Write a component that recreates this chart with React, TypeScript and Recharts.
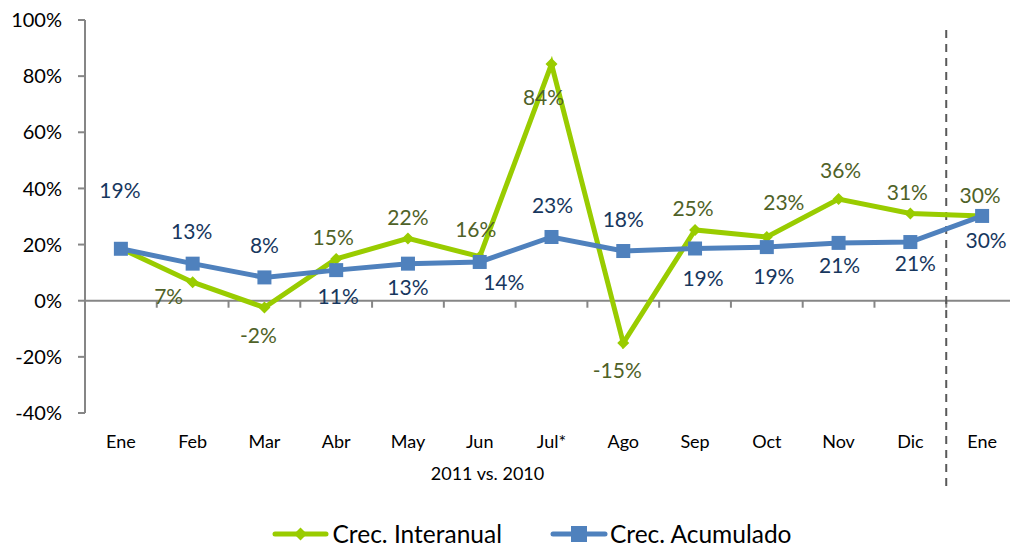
import { LineChart, Line, XAxis, YAxis, ReferenceLine, Legend, LabelList } from "recharts"

const months = ["Ene", "Feb", "Mar", "Abr", "May", "Jun", "Jul*", "Ago", "Sep", "Oct", "Nov", "Dic", "Ene"]
const interanual = [18.6, 6.6, -2.4, 14.9, 22.2, 15.7, 84.3, -15.1, 25.2, 22.7, 36.2, 31.1, 30.2]
const acumulado = [18.5, 13.2, 8.3, 10.9, 13.2, 13.8, 22.7, 17.7, 18.6, 19.1, 20.6, 20.9, 30.2]
const yTicks = [-40, -20, 0, 20, 40, 60, 80, 100]

// label nudges (dx, dy) from each point, null = no label
const interLabelPos: ([number, number] | null)[] = [
  null, [-24, 13], [-6, 27], [-3, -22], [0, -22], [-4, -28], [-8, 32],
  [-6, 26], [-2, -22], [17, -35], [2, -30], [-3, -22], [-2, -21],
]
const acumLabelPos: ([number, number] | null)[] = [
  [-1, -59], [-1, -33], [0, -33], [2, 25], [0, 23], [24, 20], [1, -32],
  [0, -33], [8, 29], [7, 28], [1, 22], [5, 20], [4, 24],
]

const GREEN = "#99CC00"
const BLUE = "#4F81BD"
const AXIS = "#868686"
const FONT = "Lato, 'Noto Sans', sans-serif"

const data = months.map((m, i) => ({ idx: i, month: m, inter: interanual[i], acum: acumulado[i] }))

const Diamond = ({ cx, cy }: any) => {
  if (cx == null || cy == null) return null
  return <path d={`M${cx - 6},${cy} L${cx},${cy - 6} L${cx + 6},${cy} L${cx},${cy + 6} Z`} fill={GREEN} />
}

const Square = ({ cx, cy }: any) => {
  if (cx == null || cy == null) return null
  return <rect x={cx - 7} y={cy - 7} width={14} height={14} fill={BLUE} />
}

const makeLabel = (pos: ([number, number] | null)[], color: string) => (props: any) => {
  const { x, y, value, index } = props
  const p = pos[index]
  if (!p) return null
  return (
    <text
      x={x + p[0]}
      y={y + p[1]}
      textAnchor="middle"
      dominantBaseline="central"
      fill={color}
      fontSize={21}
      fontFamily={FONT}
    >
      {`${Math.round(value)}%`}
    </text>
  )
}

// zero line with small tick marks at category boundaries
const ZeroLine = (props: any) => {
  const { x1, y1, x2 } = props
  const band = (x2 - x1) / months.length
  return (
    <g>
      <line x1={x1} y1={y1} x2={x2} y2={y1} stroke={AXIS} strokeWidth={2} />
      {months.map((_, k) => (
        <line key={k} x1={x1 + k * band} y1={y1} x2={x1 + k * band} y2={y1 + 7} stroke={AXIS} strokeWidth={2} />
      ))}
    </g>
  )
}

const LegendContent = () => (
  <div
    style={{
      display: "flex",
      justifyContent: "center",
      paddingLeft: 45,
      paddingTop: 37,
      height: 65,
      boxSizing: "border-box",
      fontFamily: FONT,
      fontSize: 24.5,
      lineHeight: "28px",
      color: "#000",
    }}
  >
    <div style={{ display: "flex", alignItems: "center", marginRight: 48 }}>
      <svg width={57} height={18} style={{ marginRight: 4 }}>
        <line x1={3} y1={9} x2={54} y2={9} stroke={GREEN} strokeWidth={5} strokeLinecap="round" />
        <path d="M22,9 L28.5,2.5 L35,9 L28.5,15.5 Z" fill={GREEN} />
      </svg>
      <span>Crec. Interanual</span>
    </div>
    <div style={{ display: "flex", alignItems: "center" }}>
      <svg width={58} height={18} style={{ marginRight: 2 }}>
        <line x1={3} y1={9} x2={55} y2={9} stroke={BLUE} strokeWidth={5} strokeLinecap="round" />
        <rect x={21} y={1} width={16} height={16} fill={BLUE} />
      </svg>
      <span>Crec. Acumulado</span>
    </div>
  </div>
)

export default function App() {
  return (
    <div style={{ position: "absolute", left: 0, top: 0, width: 1010, height: 548, overflow: "hidden", background: "#fff", fontFamily: FONT }}>
      <LineChart width={1030} height={548} data={data} margin={{ top: 20, right: 12, left: 0, bottom: 0 }}>
        <XAxis
          type="number"
          dataKey="idx"
          domain={[-0.5, 12.5]}
          ticks={months.map((_, i) => i)}
          tickFormatter={(i: number) => months[i]}
          interval={0}
          axisLine={false}
          tickLine={false}
          tickMargin={16}
          height={70}
          tick={{ fill: "#000", fontSize: 18, fontFamily: FONT }}
          label={{ value: "2011 vs. 2010", position: "insideBottom", offset: 3, dx: -64, fill: "#000", fontSize: 18, fontFamily: FONT }}
        />
        <YAxis
          domain={[-40, 100]}
          ticks={yTicks}
          tickFormatter={(v: number) => `${v}%`}
          width={85}
          axisLine={{ stroke: AXIS, strokeWidth: 2 }}
          tickLine={{ stroke: AXIS, strokeWidth: 2 }}
          tickSize={7}
          tickMargin={16}
          tick={{ fill: "#000", fontSize: 20, fontFamily: FONT }}
        />
        <ReferenceLine y={0} shape={<ZeroLine />} />
        <ReferenceLine
          segment={[{ x: 11.5, y: 96.4 }, { x: 11.5, y: -67.4 }]}
          ifOverflow="visible"
          stroke="#595959"
          strokeWidth={2}
          strokeDasharray="8 6"
        />
        <Legend verticalAlign="bottom" height={65} content={<LegendContent />} />
        <Line
          dataKey="inter"
          stroke={GREEN}
          strokeWidth={5}
          dot={<Diamond />}
          activeDot={false}
          isAnimationActive={false}
        >
          <LabelList dataKey="inter" content={makeLabel(interLabelPos, "#4F6228")} />
        </Line>
        <Line
          dataKey="acum"
          stroke={BLUE}
          strokeWidth={5}
          dot={<Square />}
          activeDot={false}
          isAnimationActive={false}
        >
          <LabelList dataKey="acum" content={makeLabel(acumLabelPos, "#17375E")} />
        </Line>
      </LineChart>
    </div>
  )
}
